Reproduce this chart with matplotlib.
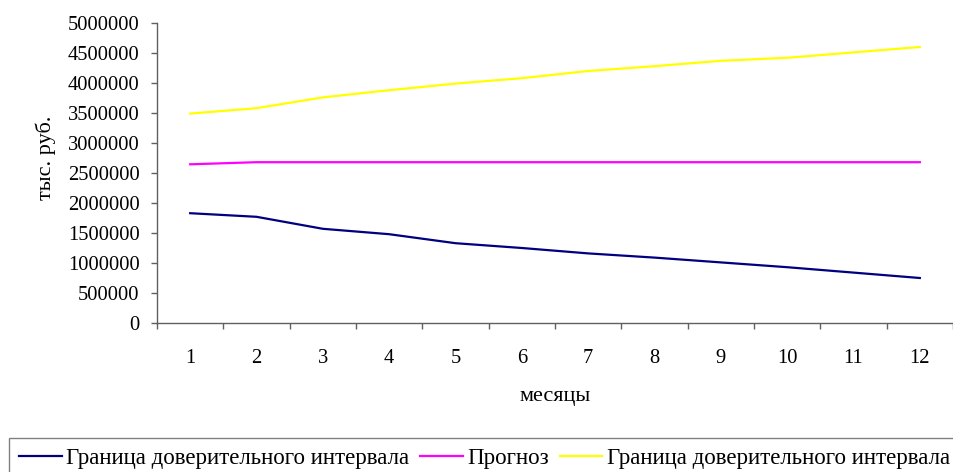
import matplotlib.pyplot as plt
from matplotlib.ticker import FixedLocator, NullFormatter

plt.rcParams['font.family'] = ['Liberation Serif', 'DejaVu Serif']

months = [1, 2, 3, 4, 5, 6, 7, 8, 9, 10, 11, 12]
lower_bound = [1830000, 1770000, 1570000, 1480000, 1330000, 1250000,
               1160000, 1090000, 1010000, 930000, 840000, 750000]
forecast = [2645000, 2680000, 2680000, 2680000, 2680000, 2680000,
            2680000, 2680000, 2680000, 2680000, 2680000, 2680000]
upper_bound = [3490000, 3580000, 3760000, 3880000, 3990000, 4080000,
               4200000, 4280000, 4370000, 4420000, 4510000, 4600000]
yticks = list(range(0, 5000001, 500000))

W, H = 954, 472
TICK_FS = 14.8
TITLE_FS = 16
LEGEND_FS = 16.5
fig = plt.figure(figsize=(W / 100, H / 100), dpi=100)
ax = fig.add_axes([157 / W, 1 - 323 / H, (953 - 157) / W, (323 - 23) / H])

ax.plot(months, lower_bound, color='#000080', lw=1.6,
        label='Граница доверительного интервала')
ax.plot(months, forecast, color='#FF00FF', lw=1.6, label='Прогноз')
ax.plot(months, upper_bound, color='#FFFF00', lw=1.6,
        label='Граница доверительного интервала')

ax.set_xlim(0.5, 12.5)
ax.set_ylim(0, 5000000)
ax.set_yticks(yticks)
ax.set_yticklabels([str(v) for v in yticks])
ax.set_xticks(months)
ax.set_xticklabels([str(m) for m in months])
# tick marks sit between the months, labels under their centres
ax.xaxis.set_minor_locator(FixedLocator([m + 0.5 for m in range(0, 13)]))
ax.xaxis.set_minor_formatter(NullFormatter())

for side in ('top', 'right'):
    ax.spines[side].set_visible(False)
for side in ('left', 'bottom'):
    ax.spines[side].set_color('#606060')
    ax.spines[side].set_linewidth(1.0)

ax.tick_params(axis='y', direction='out', length=4, width=1.0,
               color='#606060', pad=8.5, labelsize=TICK_FS)
ax.tick_params(axis='x', which='major', length=0, pad=18.5, labelsize=TICK_FS)
ax.tick_params(axis='x', which='minor', direction='out', length=4.5,
               width=1.0, color='#606060')

fig.text(46 / W, 1 - 158 / H, 'тыс. руб.', rotation=90, fontsize=TITLE_FS,
         ha='center', va='center')
fig.text(555 / W, 1 - 397 / H, 'месяцы', fontsize=TITLE_FS,
         ha='center', va='center')

leg = fig.legend(loc='upper left', bbox_to_anchor=(9 / W, 1 - 437.5 / H),
                 ncol=3, fontsize=LEGEND_FS, frameon=True, fancybox=False,
                 borderpad=0.45, handlelength=1.85, handletextpad=0.18,
                 columnspacing=0.5, borderaxespad=0)
leg.get_frame().set_edgecolor('#606060')
leg.get_frame().set_linewidth(1.0)

fig.savefig('out.png', dpi=100)
